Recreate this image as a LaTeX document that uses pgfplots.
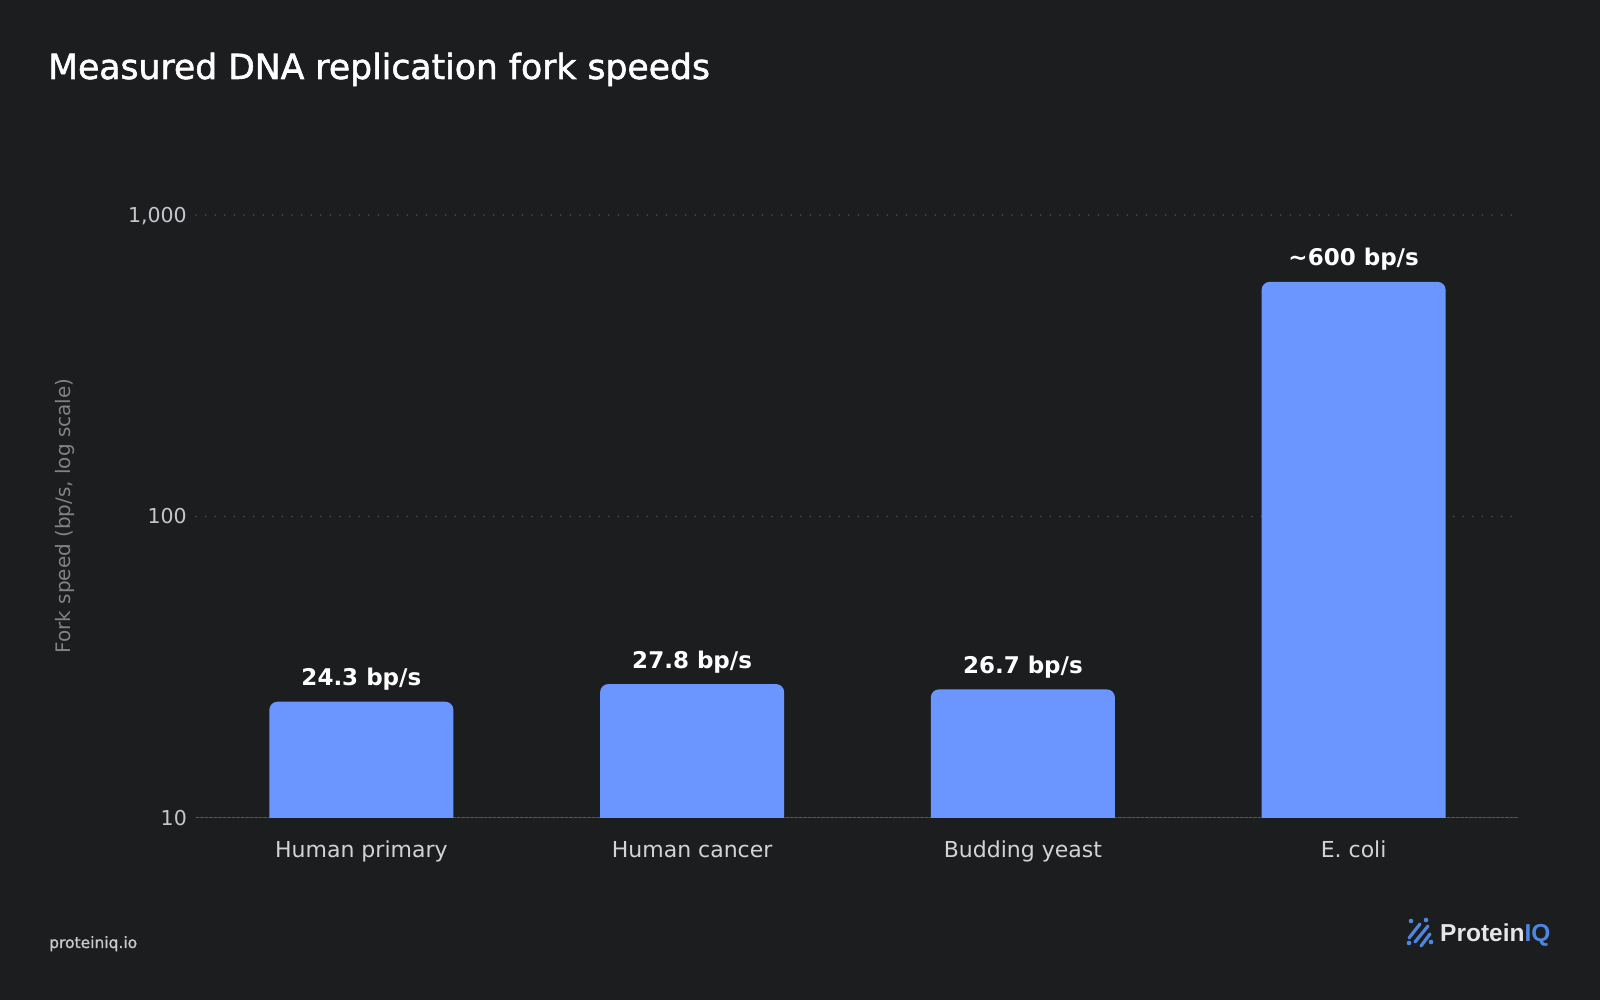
\documentclass[border=0pt]{standalone}
\usepackage{fontspec}
\setmainfont{DejaVu Sans}
\newfontfamily\logofont{Liberation Sans}
\newfontfamily\titlefont{DejaVu Sans}[RawFeature={embolden=1.6}]
\newfontfamily\footfont{DejaVu Sans}[RawFeature={embolden=1.2}]
\usepackage{pgfplots}
\pgfplotsset{compat=1.18}
\definecolor{bg}{HTML}{1C1D1F}
\definecolor{barblue}{HTML}{6B95FF}
\definecolor{ticktext}{HTML}{C4C6C9}
\definecolor{labtext}{HTML}{D2D3D5}
\definecolor{ylabtext}{HTML}{808286}
\definecolor{gridc}{HTML}{4A4B4F}
\definecolor{basec}{HTML}{55575B}
\definecolor{logoblue}{HTML}{4F86E0}
\definecolor{logotext}{HTML}{E6E6E6}
\definecolor{foot}{HTML}{C8C9CB}
\begin{document}
\begin{tikzpicture}[x=1pt,y=1pt]
\fill[bg] (0,0) rectangle (1600,1000);
\useasboundingbox (0,0) rectangle (1600,1000);
\node[anchor=base west, inner sep=0, text=white, font=\titlefont\fontsize{34.6}{40}\selectfont] at (48,921) {Measured DNA replication fork speeds};
\node[rotate=90, inner sep=0, text=ylabtext, font=\fontsize{20}{24}\selectfont] at (65,484) {Fork speed (bp/s, log scale)};
\node[anchor=base west, inner sep=0, text=foot, font=\footfont\fontsize{15.5}{20}\selectfont] at (49,52) {proteiniq.io};
\node[anchor=base west, inner sep=0, font=\logofont\bfseries\fontsize{24.5}{28}\selectfont] at (1440,58) {\textcolor{logotext}{Protein}\textcolor{logoblue}{IQ}};
% logo icon
\begin{scope}[logoblue, line width=3.2, line cap=round]
  \draw (1409,62) -- (1420,76);
  \draw (1415,58) -- (1428,74);
  \draw (1421,54) -- (1430,66);
  \fill (1411,79) circle (2.3);
  \fill (1426,80) circle (2.3);
  \fill (1409,57) circle (2.3);
  \fill (1431,58) circle (2.3);
\end{scope}
\begin{axis}[
  at={(196pt,182pt)}, anchor=south west,
  width=1323pt, height=603pt, scale only axis,
  ymode=log, ymin=10, ymax=1000,
  xmin=-0.5, xmax=3.5,
  log origin y=0,
  axis line style={draw=none},
  major tick length=0pt, minor tick length=0pt,
  xtick={0,1,2,3},
  xticklabels={Human primary,Human cancer,Budding yeast,E. coli},
  xticklabel style={anchor=base, yshift=-40pt, inner sep=0pt, text=labtext, font=\fontsize{22}{26}\selectfont},
  ytick={100,1000},
  yticklabels={100,{1,000}},
  extra y ticks={10},
  extra y tick labels={10},
  extra y tick style={grid style={color=basec, line width=1pt, dash pattern=on 3pt off 1.5pt}},
  yticklabel style={anchor=base east, xshift=-9pt, yshift=-7.4pt, inner sep=0pt, text=ticktext, font=\fontsize{20.5}{24}\selectfont},
  ymajorgrids,
  grid style={color=gridc, line width=1.8pt, line cap=round, dash pattern=on 0pt off 9.6pt},
  ybar, bar width=184pt, bar shift=0pt,
  point meta=explicit symbolic,
  nodes near coords,
  every node near coord/.append style={anchor=base, yshift=16pt, inner sep=0pt, text=white, font=\bfseries\fontsize{23}{27}\selectfont},
]
\addplot[fill=barblue, draw=none, rounded corners=8pt] coordinates {
  (0,24.3) [24.3 bp/s]
  (1,27.8) [27.8 bp/s]
  (2,26.7) [26.7 bp/s]
  (3,600) [{\textasciitilde}600 bp/s]
};
\end{axis}
\end{tikzpicture}
\end{document}
